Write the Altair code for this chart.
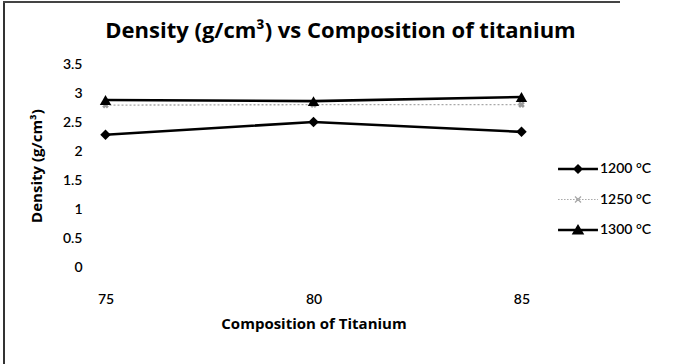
import altair as alt
import pandas as pd

# Composition of titanium (categories) and measured densities per sintering temperature
compositions = ["75", "80", "85"]
series_names = ["1200 °C", "1250 °C", "1300 °C"]
density_1200 = [2.28, 2.50, 2.33]
density_1250 = [2.79, 2.80, 2.80]
density_1300 = [2.88, 2.86, 2.93]

rows = []
for name, vals in zip(series_names, [density_1200, density_1250, density_1300]):
    for c, v in zip(compositions, vals):
        rows.append({"comp": c, "density": v, "series": name})
df = pd.DataFrame(rows)

FONT = "Lato"
TITLE_FONT = "Open Sans"
colors = ["#000000", "#a8a8a8", "#000000"]

# legend glyphs: a line segment with the series marker on it
bar = "M-1.33,-0.08 L1.33,-0.08 L1.33,0.08 L-1.33,0.08 Z"
glyph_1200 = bar + " M0,-0.34 L0.34,0 L0,0.34 L-0.34,0 Z"
glyph_1300 = bar + " M0,-0.4 L0.42,0.3 L-0.42,0.3 Z"
dashes = []
x0 = -1.33
while x0 < 1.33:
    x1 = min(x0 + 0.1, 1.33)
    dashes.append(f"M{x0:.2f},-0.04 L{x1:.2f},-0.04 L{x1:.2f},0.04 L{x0:.2f},0.04 Z")
    x0 += 0.2
glyph_1250 = " ".join(dashes) + (
    " M-0.23,-0.17 L-0.17,-0.23 L0.23,0.17 L0.17,0.23 Z"
    " M0.17,-0.23 L0.23,-0.17 L-0.17,0.23 L-0.23,0.17 Z"
)

x_enc = alt.X(
    "comp:O",
    sort=compositions,
    scale=alt.Scale(type="point", padding=0.065),
    axis=alt.Axis(
        title="Composition of Titanium",
        labelAngle=0,
        ticks=False,
        domain=False,
        labelPadding=25,
        titlePadding=10,
    ),
)
y_enc = alt.Y(
    "density:Q",
    scale=alt.Scale(domain=[0, 3.5], nice=False, zero=True),
    axis=alt.Axis(
        title="Density (g/cm³)",
        values=[0, 0.5, 1, 1.5, 2, 2.5, 3, 3.5],
        format="~g",
        grid=False,
        ticks=False,
        domain=False,
        labelPadding=10,
        titlePadding=18,
    ),
)

base = alt.Chart(df).encode(x=x_enc, y=y_enc)

solid_lines = base.transform_filter(alt.datum.series != "1250 °C").mark_line(
    color="black", strokeWidth=2.6
).encode(detail="series:N")

dotted_line = base.transform_filter(alt.datum.series == "1250 °C").mark_line(
    color="#a8a8a8", strokeWidth=1.4, strokeDash=[2, 2]
)

diamonds = base.transform_filter(alt.datum.series == "1200 °C").mark_point(
    shape="diamond", filled=True, color="black", size=110, opacity=1
)
triangles = base.transform_filter(alt.datum.series == "1300 °C").mark_point(
    shape="triangle-up", filled=True, color="black", size=130, opacity=1
)
crosses = base.transform_filter(alt.datum.series == "1250 °C").mark_point(
    shape="cross", angle=45, filled=True, color="#9a9a9a", size=45, opacity=1
)

legend_props = dict(
    title=None,
    orient="none",
    legendX=471,
    legendY=90,
    symbolSize=900,
    rowPadding=8.5,
    padding=0,
    labelFont=FONT,
    labelFontSize=14,
    labelFontWeight=600,
    labelColor="black",
    labelOffset=7,
    symbolOpacity=1,
    symbolStrokeWidth=0,
)

legend_layer = base.mark_point(filled=True, opacity=0).encode(
    shape=alt.Shape(
        "series:N",
        scale=alt.Scale(domain=series_names, range=[glyph_1200, glyph_1250, glyph_1300]),
        legend=alt.Legend(**legend_props),
    ),
    color=alt.Color(
        "series:N",
        scale=alt.Scale(domain=series_names, range=colors),
        legend=alt.Legend(**legend_props),
    ),
)

# frame lines along the top and left edges of the chart
frame_df = pd.DataFrame({"k": [0]})
left_edge = alt.Chart(frame_df).mark_rule(color="#333333", strokeWidth=2).encode(
    x=alt.value(-88), y=alt.value(-63), y2=alt.value(300)
)
top_edge = alt.Chart(frame_df).mark_rule(color="#444444", strokeWidth=2).encode(
    x=alt.value(-89), x2=alt.value(528), y=alt.value(-62)
)

chart = (
    alt.layer(
        solid_lines, dotted_line, diamonds, crosses, triangles, legend_layer,
        left_edge, top_edge,
    )
    .resolve_scale(shape="independent", color="independent")
    .properties(
        width=443,
        height=203,
        autosize=alt.AutoSizeParams(type="none"),
        padding={"left": 92, "top": 64, "right": 139, "bottom": 97},
        title=alt.TitleParams(
            "Density (g/cm³) vs Composition of titanium",
            font=TITLE_FONT,
            fontSize=22,
            fontWeight="bold",
            color="black",
            anchor="middle",
            frame="group",
            dx=27,
            dy=43,
            offset=0,
        ),
    )
    .configure(background="white")
    .configure_view(stroke=None)
    .configure_axis(
        labelFont=FONT,
        labelFontSize=14,
        labelFontWeight=600,
        labelColor="black",
        titleFont=TITLE_FONT,
        titleFontSize=15,
        titleFontWeight="bold",
        titleColor="black",
    )
)

chart.save("out.html", embed_options={"renderer": "svg", "actions": False})
